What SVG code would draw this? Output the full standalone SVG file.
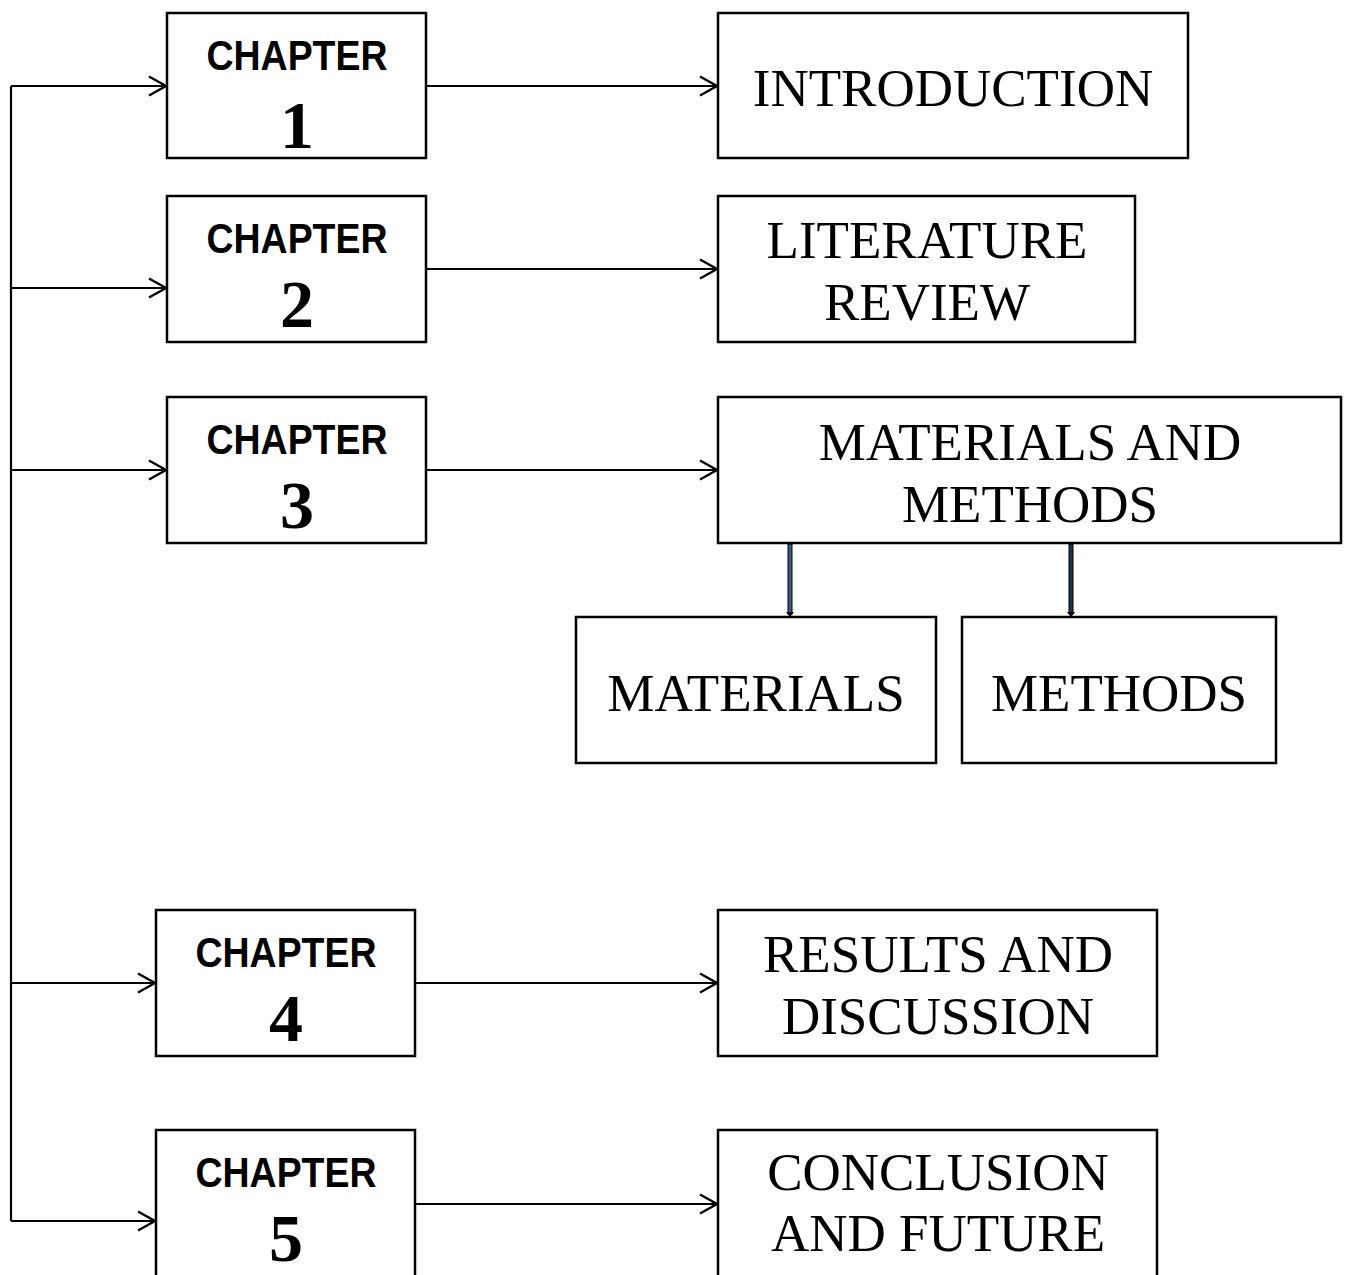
<svg xmlns="http://www.w3.org/2000/svg" width="1351" height="1275" viewBox="0 0 1351 1275">
<style>
.box{fill:#fff;stroke:#000;stroke-width:2.5}
.ch{font-family:"Liberation Sans",Arial,sans-serif;font-weight:bold;font-size:42px;text-anchor:middle}
.num{font-family:"Liberation Serif","Times New Roman",serif;font-weight:bold;font-size:68px;text-anchor:middle}
.t{font-family:"Liberation Serif","Times New Roman",serif;font-size:53px;text-anchor:middle}
.c{fill:none;stroke:#000;stroke-width:2.2}
</style>
<defs>
<marker id="ah" markerWidth="22" markerHeight="22" refX="19" refY="11" orient="auto" markerUnits="userSpaceOnUse">
<path d="M2,1.5 L19,11 L2,20.5" fill="none" stroke="#000" stroke-width="2.4"/>
</marker>
</defs>
<rect width="1351" height="1275" fill="#fff"/>
<g id="connectors">
<path class="c" d="M11,86 V1221"/>
<path class="c" d="M11,86 H166" marker-end="url(#ah)"/>
<path class="c" d="M11,288 H166" marker-end="url(#ah)"/>
<path class="c" d="M11,470 H166" marker-end="url(#ah)"/>
<path class="c" d="M11,983 H155" marker-end="url(#ah)"/>
<path class="c" d="M11,1221 H155" marker-end="url(#ah)"/>
<path class="c" d="M426,86 H717" marker-end="url(#ah)"/>
<path class="c" d="M426,269 H717" marker-end="url(#ah)"/>
<path class="c" d="M426,470 H717" marker-end="url(#ah)"/>
<path class="c" d="M415,983 H717" marker-end="url(#ah)"/>
<path class="c" d="M415,1204 H717" marker-end="url(#ah)"/>
<rect x="788" y="544" width="4" height="70" fill="#3a5a80" stroke="#000" stroke-width="1"/>
<path d="M786,612 L790,617 L794,612 Z" fill="#000"/>
<rect x="1069" y="544" width="4" height="70" fill="#1f3350" stroke="#000" stroke-width="1"/>
<path d="M1067,612 L1071,617 L1075,612 Z" fill="#000"/>
</g>
<g id="ch1"><rect class="box" x="167" y="13" width="259" height="145"/><text class="ch" x="297" y="70" textLength="181" lengthAdjust="spacingAndGlyphs">CHAPTER</text><text class="num" x="297" y="148">1</text></g>
<g id="ch2"><rect class="box" x="167" y="196" width="259" height="146"/><text class="ch" x="297" y="253" textLength="181" lengthAdjust="spacingAndGlyphs">CHAPTER</text><text class="num" x="297" y="327">2</text></g>
<g id="ch3"><rect class="box" x="167" y="397" width="259" height="146"/><text class="ch" x="297" y="454" textLength="181" lengthAdjust="spacingAndGlyphs">CHAPTER</text><text class="num" x="297" y="528">3</text></g>
<g id="ch4"><rect class="box" x="156" y="910" width="259" height="146"/><text class="ch" x="286" y="967" textLength="181" lengthAdjust="spacingAndGlyphs">CHAPTER</text><text class="num" x="286" y="1041">4</text></g>
<g id="ch5"><rect class="box" x="156" y="1130" width="259" height="160"/><text class="ch" x="286" y="1187" textLength="181" lengthAdjust="spacingAndGlyphs">CHAPTER</text><text class="num" x="286" y="1261">5</text></g>
<g id="intro"><rect class="box" x="718" y="13" width="470" height="145"/><text class="t" x="953" y="106">INTRODUCTION</text></g>
<g id="lit"><rect class="box" x="718" y="196" width="417" height="146"/><text class="t" x="927" y="258">LITERATURE</text><text class="t" x="927" y="320">REVIEW</text></g>
<g id="mm"><rect class="box" x="718" y="397" width="623" height="146"/><text class="t" x="1030" y="460">MATERIALS AND</text><text class="t" x="1030" y="522">METHODS</text></g>
<g id="materials"><rect class="box" x="576" y="617" width="360" height="146"/><text class="t" x="756" y="711">MATERIALS</text></g>
<g id="methods"><rect class="box" x="962" y="617" width="314" height="146"/><text class="t" x="1119" y="711">METHODS</text></g>
<g id="results"><rect class="box" x="718" y="910" width="439" height="146"/><text class="t" x="938" y="972">RESULTS AND</text><text class="t" x="938" y="1034">DISCUSSION</text></g>
<g id="concl"><rect class="box" x="718" y="1130" width="439" height="160"/><text class="t" x="938" y="1190">CONCLUSION</text><text class="t" x="938" y="1251">AND FUTURE</text></g>
</svg>
